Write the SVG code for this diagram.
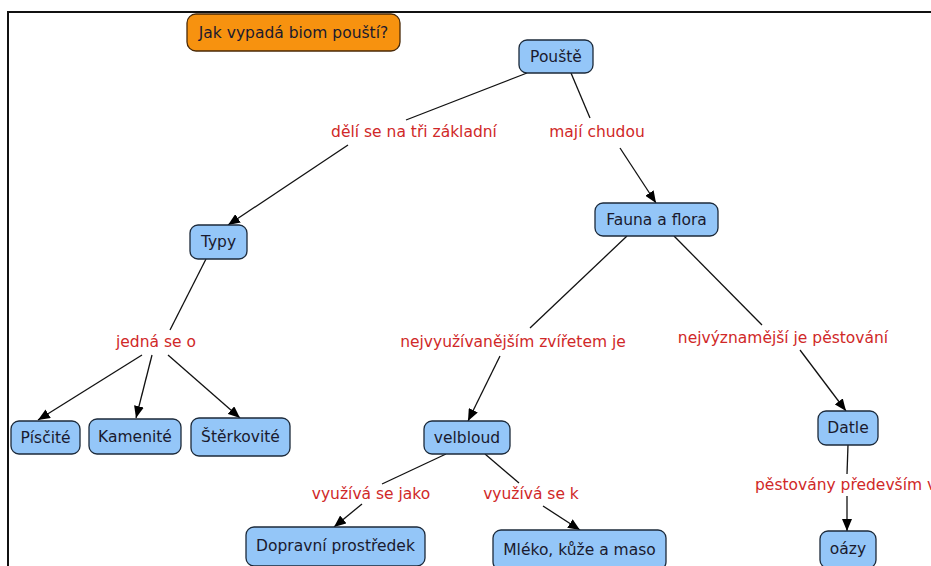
<svg xmlns="http://www.w3.org/2000/svg" width="931" height="566" viewBox="0 0 931 566">
<defs>
<marker id="arr" viewBox="0 0 12 10" refX="12" refY="5" markerWidth="12" markerHeight="10" markerUnits="userSpaceOnUse" orient="auto">
<path d="M0,0 L12,5 L0,10 z" fill="#000"/>
</marker>
<style>
.n rect{fill:#94c6f8;stroke:#1c2a3a;stroke-width:1.3}
.q rect{fill:#f7920f;stroke:#4a2a08;stroke-width:1.3}
.n text,.q text{font-family:"DejaVu Sans",Verdana,sans-serif;font-size:15.5px;fill:#1a1a2e;text-anchor:middle;dominant-baseline:central}
.l{font-family:"DejaVu Sans",Verdana,sans-serif;font-size:15.5px;fill:#d02828;text-anchor:middle;dominant-baseline:central}
#connectors line{stroke:#111;stroke-width:1.3}
</style>
</defs>
<rect width="931" height="566" fill="#fff"/>
<path d="M8,566 V12 H931" fill="none" stroke="#111" stroke-width="2"/>

<g id="connectors">
<line x1="527" y1="73" x2="406" y2="120"/>
<line x1="348" y1="145" x2="228" y2="225" marker-end="url(#arr)"/>
<line x1="571" y1="73" x2="590" y2="118"/>
<line x1="620" y1="148" x2="656" y2="203" marker-end="url(#arr)"/>
<line x1="206" y1="259" x2="170" y2="330"/>
<line x1="142" y1="355" x2="38" y2="420" marker-end="url(#arr)"/>
<line x1="152" y1="355" x2="136" y2="418" marker-end="url(#arr)"/>
<line x1="168" y1="355" x2="240" y2="418" marker-end="url(#arr)"/>
<line x1="627" y1="236" x2="530" y2="328"/>
<line x1="500" y1="356" x2="468" y2="421" marker-end="url(#arr)"/>
<line x1="674" y1="236" x2="762" y2="325"/>
<line x1="800" y1="350" x2="846" y2="411" marker-end="url(#arr)"/>
<line x1="446" y1="454" x2="382" y2="484"/>
<line x1="362" y1="504" x2="334" y2="527" marker-end="url(#arr)"/>
<line x1="485" y1="454" x2="519" y2="483"/>
<line x1="543" y1="506" x2="580" y2="530" marker-end="url(#arr)"/>
<line x1="848" y1="445" x2="847" y2="474"/>
<line x1="847" y1="496" x2="847" y2="531" marker-end="url(#arr)"/>
</g>

<text class="l" x="414" y="132">dělí se na tři základní</text>
<text class="l" x="597" y="132">mají chudou</text>
<text class="l" x="156" y="342">jedná se o</text>
<text class="l" x="513" y="342">nejvyužívanějším zvířetem je</text>
<text class="l" x="783" y="338">nejvýznamější je pěstování</text>
<text class="l" x="371" y="494">využívá se jako</text>
<text class="l" x="531" y="494">využívá se k</text>
<text class="l" x="755" y="485" style="text-anchor:start">pěstovány především v</text>

<g id="n-jak" class="q"><rect x="187" y="14" width="213" height="37" rx="9"/><text x="293.5" y="32.5">Jak vypadá biom pouští?</text></g>
<g id="n-pouste" class="n"><rect x="519" y="40" width="74" height="33" rx="8"/><text x="556" y="57">Pouště</text></g>
<g id="n-typy" class="n"><rect x="190" y="225" width="57" height="34" rx="8"/><text x="218.5" y="242">Typy</text></g>
<g id="n-fauna" class="n"><rect x="595" y="203" width="123" height="33" rx="8"/><text x="656.5" y="219.5">Fauna a flora</text></g>
<g id="n-piscite" class="n"><rect x="11" y="421" width="69" height="33" rx="8"/><text x="45.5" y="437.5">Písčité</text></g>
<g id="n-kamenite" class="n"><rect x="89" y="419" width="92" height="35" rx="8"/><text x="135" y="436.5">Kamenité</text></g>
<g id="n-sterkovite" class="n"><rect x="191" y="418" width="99" height="38" rx="8"/><text x="240.5" y="437">Štěrkovité</text></g>
<g id="n-velbloud" class="n"><rect x="424" y="421" width="86" height="33" rx="8"/><text x="467" y="437.5">velbloud</text></g>
<g id="n-datle" class="n"><rect x="818" y="411" width="60" height="34" rx="8"/><text x="848" y="428">Datle</text></g>
<g id="n-doprava" class="n"><rect x="246" y="527" width="179" height="39" rx="8"/><text x="335.5" y="546">Dopravní prostředek</text></g>
<g id="n-mleko" class="n"><rect x="493" y="530" width="173" height="40" rx="8"/><text x="579.5" y="550">Mléko, kůže a maso</text></g>
<g id="n-oazy" class="n"><rect x="820" y="531" width="56" height="37" rx="8"/><text x="848" y="549">oázy</text></g>
</svg>
